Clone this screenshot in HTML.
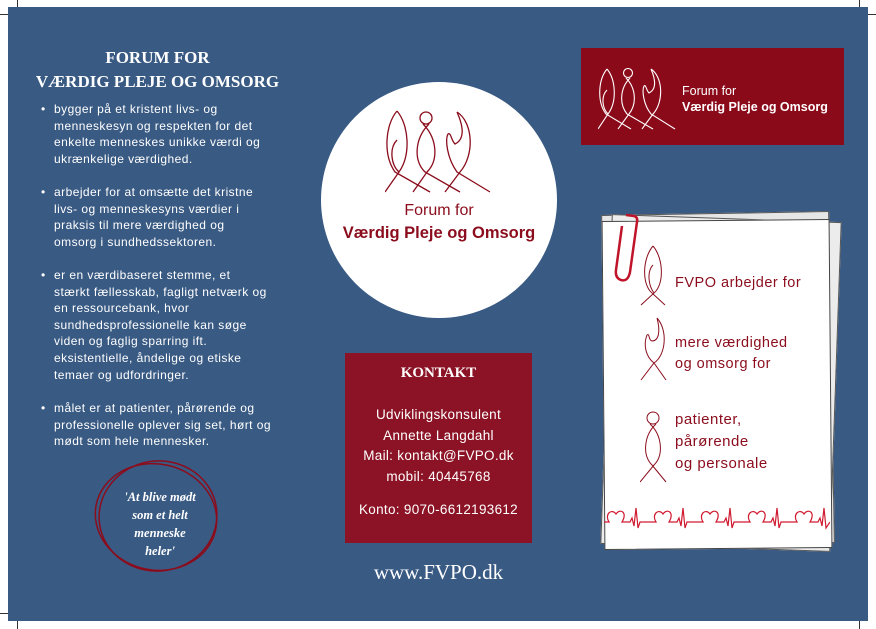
<!DOCTYPE html>
<html><head><meta charset="utf-8"><style>
*{margin:0;padding:0}
body{width:876px;height:629px;background:#fff;position:relative;overflow:hidden;font-family:"Liberation Sans",sans-serif}
.a{position:absolute}
#bg{left:8px;top:7px;width:860px;height:614px;background:#395a83}
.t{color:#fff;font-size:12px;line-height:16.6px;letter-spacing:0.45px}
.li{position:absolute;left:54px;width:250px;white-space:nowrap}
.li:before{content:"•";position:absolute;left:-13px}
.serif{font-family:"Liberation Serif",serif}
.red{color:#8b0d1d}
.pt{letter-spacing:0.5px}
</style></head><body>
<div class="a" style="left:0;top:14px;width:18px;border-top:1px solid #333"></div>
<div class="a" style="left:17px;top:0;height:8px;border-left:1px solid #333"></div>
<div class="a" style="left:859px;top:14px;width:17px;border-top:1px solid #333"></div>
<div class="a" style="left:859px;top:0;height:8px;border-left:1px solid #333"></div>
<div class="a" style="left:0;top:613px;width:18px;border-top:1px solid #333"></div>
<div class="a" style="left:17px;top:620px;height:9px;border-left:1px solid #333"></div>
<div class="a" style="left:859px;top:620px;height:9px;border-left:1px solid #333"></div>
<div id="bg" class="a"></div>

<div class="a serif" style="left:20px;top:46px;width:275px;text-align:center;color:#fff;font-weight:bold;font-size:17px;line-height:24px">FORUM FOR<br>VÆRDIG PLEJE OG OMSORG</div>
<div class="t">
<div class="li" style="top:101px">bygger på et kristent livs- og<br>menneskesyn og respekten for det<br>enkelte menneskes unikke værdi og<br>ukrænkelige værdighed.</div>
<div class="li" style="top:184px">arbejder for at omsætte det kristne<br>livs- og menneskesyns værdier i<br>praksis til mere værdighed og<br>omsorg i sundhedssektoren.</div>
<div class="li" style="top:267px">er  en værdibaseret stemme, et<br>stærkt fællesskab, fagligt netværk og<br>en ressourcebank, hvor<br>sundhedsprofessionelle kan søge<br>viden og faglig sparring ift.<br>eksistentielle, åndelige og etiske<br>temaer og udfordringer.</div>
<div class="li" style="top:400px">målet er at patienter, pårørende og<br>professionelle oplever sig set, hørt og<br>mødt som hele mennesker.</div>
</div>
<svg class="a" style="left:90px;top:455px" width="140" height="130"><g fill="none" stroke="#8b0d1d" stroke-width="1.5"><ellipse cx="68" cy="61" rx="59" ry="55" transform="rotate(-8 68 61)"/><ellipse cx="66" cy="62" rx="61" ry="53" transform="rotate(12 66 62)"/></g></svg>
<div class="a serif" style="left:100px;top:488px;width:120px;text-align:center;color:#fff;font-style:italic;font-weight:bold;font-size:12.5px;line-height:18px">'At blive mødt<br>som et helt<br>menneske<br>heler'</div>

<div class="a" style="left:321px;top:82px;width:236px;height:236px;border-radius:50%;background:#fff"></div>
<svg class="a" style="left:385px;top:110px" width="110" height="85"><g fill="none" stroke="#8b0d1d" stroke-width="1.3">
<path d="M12 1 C0 15,-2 45,10 62 L45 82 M12 1 C24 15,26 45,14 62 L0 82 M12 30 C4 38,6 55,14 62"/>
<circle cx="41" cy="8" r="6"/>
<path d="M44 14 C30 28,28 50,40 62 L75 82 M38 14 C52 28,54 50,42 62 L28 82"/>
<path d="M72 2 C88 12,90 45,75 62 L60 82 M72 2 C80 20,78 30,70 34 C66 30,66 22,63 24 C60 30,62 48,72 62 L105 82"/>
</g></svg>
<div class="a red" style="left:321px;top:202px;width:236px;text-align:center;font-size:16px">Forum for</div>
<div class="a red" style="left:321px;top:224px;width:236px;text-align:center;font-size:16.5px;font-weight:bold">Værdig Pleje og Omsorg</div>

<div class="a" style="left:581px;top:48px;width:263px;height:97px;background:#8b0a1a"></div>
<svg class="a" style="left:598px;top:68px" width="78" height="62"><g fill="none" stroke="#fff" stroke-width="1.1">
<path d="M9 1 C0 12,-1 34,8 46 L33 61 M9 1 C18 12,19 34,10 46 L0 61 M9 22 C3 28,4 40,10 46"/>
<circle cx="30" cy="5" r="4.5"/>
<path d="M32 10 C22 20,21 36,29 46 L55 61 M28 10 C38 20,39 36,31 46 L20 61"/>
<path d="M53 1 C65 9,66 34,55 46 L44 61 M53 1 C59 15,57 22,51 25 C48 22,48 16,46 18 C44 22,45 36,53 46 L77 61"/>
</g></svg>
<div class="a" style="left:682px;top:84px;color:#fff;font-size:12.5px">Forum for</div>
<div class="a" style="left:682px;top:100px;color:#fff;font-size:12.5px;font-weight:bold">Værdig Pleje og Omsorg</div>

<div class="a" style="left:604px;top:213px;width:226px;height:330px;background:#e6e6e6;transform:rotate(-1deg);border:1px solid #555"></div>
<div class="a" style="left:606px;top:218px;width:228px;height:328px;background:#ececec;transform:rotate(2deg);border:1px solid #555"></div>
<div class="a" style="left:603px;top:220px;width:226px;height:327px;background:#fff;transform:rotate(-0.5deg);border:1px solid #444"></div>
<svg class="a" style="left:612px;top:212px" width="30" height="72"><path d="M14 3 L22 4 Q26 5 25 10 L18 60 Q16 70 9 68 Q3 66 4 58 L10 14" fill="none" stroke="#c0142a" stroke-width="2.5"/></svg>
<svg class="a" style="left:640px;top:245px" width="30" height="270"><g fill="none" stroke="#8b0d1d" stroke-width="1">
<path d="M13 1 C2 14,2 40,12 48 L25 60 M13 1 C24 14,24 40,14 48 L1 60 M13 20 C7 26,8 40,14 48"/>
<path d="M17 73 C28 85,26 110,14 118 L1 135 M17 73 C21 88,18 96,12 96 C8 95,10 88,7 90 C3 100,6 112,14 118 L26 135"/>
<circle cx="13" cy="173" r="6"/>
<path d="M16 179 C4 190,2 210,12 220 L26 237 M10 179 C22 190,24 210,14 220 L0 237"/>
</g></svg>
<div class="a red pt" style="left:675px;top:275px;font-size:14.5px">FVPO arbejder for</div>
<div class="a red pt" style="left:675px;top:333px;font-size:14.5px;line-height:21px">mere værdighed<br>og omsorg for</div>
<div class="a red pt" style="left:675px;top:409px;font-size:15px;line-height:22px">patienter,<br>pårørende<br>og personale</div>
<svg class="a" style="left:604px;top:500px" width="226" height="30"><path fill="none" stroke="#d01a30" stroke-width="1.2" d="M0 22 L5 22 C0 14,8 8,12 14 C16 8,24 12,18 22 L26 22 L28 18 L30 26 L32 8 L34 28 L36 22 L52 22 C47 14,55 8,59 14 C63 8,71 12,65 22 L73 22 L75 18 L77 26 L79 8 L81 28 L83 22 L99 22 C94 14,102 8,106 14 C110 8,118 12,112 22 L120 22 L122 18 L124 26 L126 8 L128 28 L130 22 L146 22 C141 14,149 8,153 14 C157 8,165 12,159 22 L167 22 L169 18 L171 26 L173 8 L175 28 L177 22 L193 22 C188 14,196 8,200 14 C204 8,212 12,206 22 L214 22 L216 18 L218 26 L220 8 L222 28 L226 22"/></svg>

<div class="a" style="left:345px;top:353px;width:187px;height:190px;background:#8b1325"></div>
<div class="a serif" style="left:345px;top:365px;width:187px;text-align:center;color:#fff;font-weight:bold;font-size:15px">KONTAKT</div>
<div class="a" style="left:345px;top:405px;width:187px;text-align:center;color:#fff;font-size:13.5px;line-height:20.5px;letter-spacing:0.3px">Udviklingskonsulent<br>Annette Langdahl<br>Mail: kontakt@FVPO.dk<br>mobil: 40445768</div>
<div class="a" style="left:345px;top:502px;width:187px;text-align:center;color:#fff;font-size:13.5px;letter-spacing:0.3px">Konto: 9070-6612193612</div>
<div class="a serif" style="left:345px;top:560px;width:187px;text-align:center;color:#fff;font-size:21px">www.FVPO.dk</div>
</body></html>
